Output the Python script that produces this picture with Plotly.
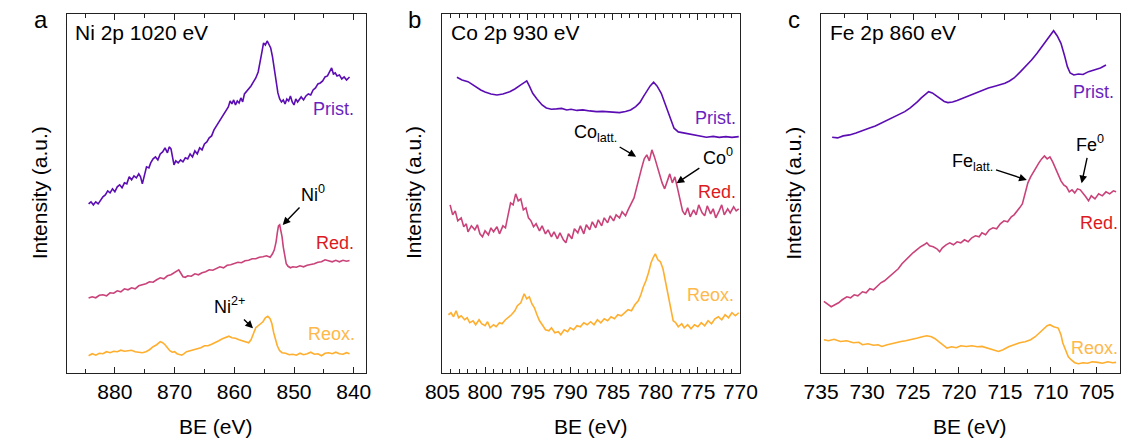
import plotly.graph_objects as go

# ---------------- data (BE in eV, intensity in a.u.) ----------------
ni_be_prist = [884.4, 884.0, 883.6, 883.2, 882.8, 882.4, 882.0, 881.6, 881.2, 880.8, 880.4, 880.0, 879.6, 879.2, 878.8, 878.4, 878.0, 877.6, 877.2, 876.8, 876.4, 876.0, 875.7, 875.4, 875.0, 874.7, 874.3, 874.0, 873.6, 873.2, 872.8, 872.4, 872.0, 871.6, 871.2, 870.9, 870.6, 870.3, 870.1, 869.8, 869.4, 869.0, 868.6, 868.2, 867.8, 867.4, 867.0, 866.6, 866.2, 865.8, 865.4, 865.0, 864.6, 864.2, 863.8, 863.4, 863.0, 862.6, 862.2, 861.8, 861.4, 861.0, 860.7, 860.4, 860.1, 859.8, 859.5, 859.2, 858.9, 858.6, 858.3, 858.0, 857.6, 857.2, 856.8, 856.4, 856.0, 855.7, 855.4, 855.1, 854.8, 854.5, 854.2, 853.9, 853.6, 853.3, 853.0, 852.7, 852.4, 852.1, 851.8, 851.5, 851.2, 850.9, 850.6, 850.3, 850.0, 849.7, 849.4, 849.1, 848.8, 848.4, 848.0, 847.6, 847.2, 846.8, 846.4, 846.0, 845.6, 845.2, 844.8, 844.4, 844.0, 843.7, 843.4, 843.1, 842.8, 842.4, 842.0, 841.6, 841.2, 840.7]
ni_prist = [169, 171, 168, 171, 169, 173, 176, 178, 182, 180, 184, 181, 186, 188, 185, 190, 189, 196, 193, 197, 195, 199, 196, 189, 199, 206, 205, 210, 214, 216, 213, 219, 221, 225, 220, 226, 224, 214, 208, 212, 210, 213, 211, 215, 214, 219, 216, 222, 219, 225, 223, 229, 231, 235, 237, 243, 247, 251, 255, 258, 262, 266, 272, 269, 273, 268, 272, 270, 275, 271, 279, 281, 284, 287, 291, 295, 301, 309, 320, 330, 328, 332, 328, 325, 316, 303, 290, 280, 274, 271, 273, 269, 274, 272, 277, 271, 268, 274, 271, 273, 276, 273, 277, 279, 278, 283, 285, 289, 290, 292, 296, 297, 301, 305, 299, 300, 297, 298, 294, 296, 293, 296]

ni_be_red = [884.4, 883.8, 883.2, 882.6, 882.0, 881.4, 880.8, 880.2, 879.6, 879.0, 878.4, 877.8, 877.2, 876.6, 876.0, 875.4, 874.8, 874.2, 873.6, 873.0, 872.4, 871.8, 871.2, 870.6, 870.0, 869.6, 869.3, 869.0, 868.6, 868.2, 867.8, 867.2, 866.6, 866.0, 865.4, 864.8, 864.2, 863.6, 863.0, 862.4, 861.8, 861.2, 860.6, 860.0, 859.4, 858.8, 858.2, 857.6, 857.0, 856.4, 855.8, 855.2, 854.6, 854.0, 853.6, 853.3, 853.0, 852.8, 852.6, 852.4, 852.2, 852.0, 851.8, 851.6, 851.3, 851.0, 850.6, 850.2, 849.6, 849.0, 848.4, 847.8, 847.2, 846.6, 846.0, 845.4, 844.8, 844.2, 843.6, 843.0, 842.4, 841.8, 841.2, 840.7]
ni_red = [74.7, 76, 75, 77.5, 78, 77, 80, 79.5, 82, 81, 84, 83, 85, 84, 87, 88, 89, 91, 90.5, 93, 95, 94, 97, 98, 100, 102, 103, 100, 96, 95.5, 97, 96.5, 99, 98, 100, 101, 103, 102.5, 104, 106, 105, 107.5, 108, 109, 110.5, 110, 112, 112.5, 114, 114, 115.5, 116, 117, 115.5, 119, 123, 131, 140, 147, 148, 143, 136, 126, 117, 109, 106.5, 105, 106, 105.5, 107, 106, 107.5, 108, 109, 110.5, 111, 113, 112, 111, 112.5, 111, 112.5, 111.5, 112.3]

ni_be_reox = [884.4, 883.8, 883.2, 882.6, 882.0, 881.4, 880.8, 880.2, 879.6, 879.0, 878.4, 877.8, 877.2, 876.6, 876.0, 875.4, 874.8, 874.2, 873.6, 873.0, 872.4, 872.0, 871.6, 871.2, 870.8, 870.4, 870.0, 869.6, 869.2, 868.8, 868.4, 868.0, 867.4, 866.8, 866.2, 865.6, 865.0, 864.4, 863.8, 863.2, 862.6, 862.0, 861.4, 860.9, 860.4, 859.8, 859.2, 858.6, 858.0, 857.6, 857.2, 856.8, 856.4, 856.0, 855.6, 855.2, 854.8, 854.4, 854.0, 853.7, 853.4, 853.1, 852.8, 852.4, 852.0, 851.4, 850.8, 850.2, 849.6, 849.0, 848.4, 847.8, 847.2, 846.6, 846.0, 845.4, 844.8, 844.2, 843.6, 843.0, 842.4, 841.8, 841.2, 840.7]
ni_reox = [17, 19, 17.5, 19.5, 19, 21, 20, 21.5, 21, 22.5, 21.5, 22, 22.5, 21, 20.5, 20, 21, 23, 26, 28, 31, 30, 28, 25, 22, 20.5, 21, 19, 18, 17.5, 19, 21, 22, 23, 24, 25, 27, 27, 28.5, 30, 32, 34, 35, 36.5, 35, 34.5, 33, 32, 31, 30, 33, 40, 45, 47, 49, 51, 55, 56.5, 54, 49, 40, 33, 27, 22, 20, 19.5, 18, 18.5, 17.5, 19.5, 18, 19, 20.5, 18.5, 19, 17, 19.5, 20, 19, 20.5, 19, 18.5, 20, 19]

co_be_prist = [803.3, 802.7, 802.0, 801.4, 800.9, 800.5, 800.0, 799.3, 798.6, 797.9, 797.1, 796.5, 795.8, 795.4, 795.1, 794.8, 794.4, 793.9, 793.3, 792.8, 792.2, 791.6, 791.0, 790.4, 789.9, 789.2, 788.5, 787.7, 786.9, 786.2, 785.5, 784.8, 784.2, 783.5, 782.9, 782.3, 781.8, 781.4, 781.0, 780.6, 780.2, 779.8, 779.3, 778.9, 778.5, 778.1, 777.8, 777.3, 776.7, 776.2, 775.5, 774.8, 774.0, 773.2, 772.5, 771.7, 771.0, 770.2]
co_prist = [295.7, 293, 291.3, 288, 285, 283, 281, 279, 278, 279, 281.3, 284, 288, 290, 292, 287, 279.7, 274, 268, 265, 263.7, 264, 264.5, 263, 263.7, 262.5, 263, 262, 261.3, 261.5, 261, 260.5, 260.3, 261.5, 263, 266.3, 270.5, 276.3, 282, 287, 290.7, 287, 279.7, 270, 259.7, 250, 244.7, 241, 240, 239, 237.5, 236.5, 235.7, 236.5, 235.5, 236.3, 235.5, 236.3]

co_be_red = [804.1, 803.8, 803.5, 803.2, 802.8, 802.5, 802.2, 802.0, 801.6, 801.2, 800.9, 800.6, 800.3, 800.0, 799.6, 799.3, 799.0, 798.6, 798.3, 797.9, 797.6, 797.3, 797.0, 796.7, 796.4, 796.1, 795.8, 795.5, 795.2, 794.9, 794.6, 794.3, 794.0, 793.6, 793.3, 792.9, 792.6, 792.2, 791.9, 791.5, 791.2, 790.8, 790.5, 790.2, 789.8, 789.5, 789.1, 788.8, 788.4, 788.1, 787.7, 787.4, 787.0, 786.7, 786.3, 786.0, 785.6, 785.3, 784.9, 784.6, 784.2, 783.9, 783.5, 783.2, 782.9, 782.5, 782.2, 781.9, 781.6, 781.3, 781.0, 780.7, 780.4, 780.1, 779.8, 779.5, 779.2, 778.9, 778.6, 778.3, 778.0, 777.7, 777.4, 777.1, 776.8, 776.5, 776.2, 775.9, 775.5, 775.2, 774.9, 774.5, 774.2, 773.9, 773.5, 773.2, 772.9, 772.5, 772.2, 771.9, 771.5, 771.2, 770.8, 770.5, 770.2]
co_red = [168, 158, 162, 152, 155, 146, 149, 141, 147, 143, 148, 139, 136, 142, 138, 145, 141, 146, 139, 147, 145, 158, 170, 168, 179, 172, 174, 163, 165, 155, 152, 146, 149, 142, 147, 139, 143, 136, 141, 134, 140, 133, 130, 139, 134, 144, 140, 147, 139, 148, 143, 151, 145, 153, 147, 155, 150, 157, 152, 158, 155, 161, 157, 163, 168, 175, 185, 196, 205, 214, 218, 212, 223, 216, 207, 198, 190, 184, 192, 199, 190, 196, 185, 172, 162, 158, 165, 156, 163, 158, 168, 160, 157, 167, 159, 164, 155, 162, 168, 158, 164, 160, 166, 162, 164]

co_be_reox = [804.3, 804.0, 803.7, 803.4, 803.1, 802.8, 802.4, 802.1, 801.8, 801.4, 801.1, 800.7, 800.4, 800.0, 799.7, 799.4, 799.0, 798.7, 798.3, 798.0, 797.6, 797.2, 796.9, 796.5, 796.2, 795.8, 795.4, 795.1, 794.8, 794.5, 794.2, 793.9, 793.6, 793.2, 792.9, 792.5, 792.2, 791.8, 791.4, 791.1, 790.7, 790.3, 790.0, 789.6, 789.2, 788.8, 788.4, 788.0, 787.6, 787.2, 786.8, 786.4, 786.0, 785.6, 785.2, 784.8, 784.4, 784.0, 783.6, 783.2, 782.8, 782.4, 782.0, 781.7, 781.4, 781.1, 780.8, 780.5, 780.2, 780.0, 779.7, 779.4, 779.1, 778.8, 778.5, 778.2, 777.9, 777.6, 777.3, 776.9, 776.6, 776.2, 775.8, 775.4, 775.0, 774.6, 774.2, 773.8, 773.4, 773.0, 772.6, 772.2, 771.8, 771.4, 771.0, 770.6, 770.2]
co_reox = [58, 60, 56, 62, 55, 57, 53, 55, 50, 52, 48, 53, 49, 47, 51, 45, 48, 46, 50, 49, 53, 56, 58, 62, 67, 70, 79, 74, 76, 69, 65, 58, 52, 47, 43, 42, 45, 40, 41, 38, 43, 41, 45, 43, 47, 46, 50, 48, 51, 48, 53, 50, 54, 52, 56, 54, 58, 57, 60, 63, 62, 68, 72, 78, 86, 92, 100, 110, 116, 119, 113, 111, 104, 90, 77, 62, 52, 50, 46, 49, 45, 48, 44, 48, 46, 50, 47, 52, 49, 54, 56, 53, 58, 55, 60, 57, 60]

fe_be_prist = [733.8, 733.2, 732.6, 731.9, 731.2, 730.5, 729.8, 729.1, 728.4, 727.7, 727.0, 726.4, 725.9, 725.3, 724.9, 724.5, 724.1, 723.7, 723.3, 722.9, 722.4, 722.0, 721.6, 721.2, 720.7, 720.2, 719.6, 719.0, 718.3, 717.5, 716.8, 716.0, 715.0, 714.5, 714.0, 713.3, 712.7, 712.1, 711.5, 711.0, 710.5, 710.1, 709.7, 709.3, 708.9, 708.5, 708.2, 707.9, 707.5, 707.0, 706.5, 705.9, 705.2, 704.6, 704.0]
fe_prist = [235.7, 235, 237, 238, 240, 242, 244.7, 247, 250, 253, 256, 258.5, 261.3, 265, 268, 271.3, 275, 278, 281.3, 280, 277, 274, 271.5, 270.3, 271, 272.5, 274.7, 277, 279.5, 283, 285, 287, 289.7, 292, 295, 301.3, 307, 313, 319.7, 326, 333, 338, 342.3, 337, 329.7, 317, 306.3, 300, 298, 299, 298.5, 301.3, 303, 305, 308]

fe_be_red = [734.7, 734.3, 733.9, 733.5, 733.1, 732.7, 732.2, 731.8, 731.4, 731.0, 730.5, 730.1, 729.7, 729.3, 728.9, 728.5, 728.1, 727.7, 727.3, 727.0, 726.6, 726.2, 725.8, 725.4, 725.0, 724.6, 724.2, 723.8, 723.5, 723.2, 722.8, 722.4, 722.1, 721.8, 721.4, 721.0, 720.6, 720.2, 719.8, 719.4, 719.0, 718.6, 718.2, 717.8, 717.5, 717.1, 716.7, 716.3, 715.9, 715.5, 715.1, 714.7, 714.3, 714.0, 713.7, 713.4, 713.1, 712.8, 712.5, 712.2, 711.9, 711.6, 711.3, 711.0, 710.7, 710.4, 710.1, 709.8, 709.5, 709.2, 708.9, 708.6, 708.3, 708.0, 707.7, 707.4, 707.1, 706.8, 706.5, 706.2, 705.9, 705.6, 705.2, 704.8, 704.4, 704.0, 703.6, 703.2, 702.9]
fe_red = [71.3, 69, 66, 68, 70, 73, 76, 75, 78, 77, 81, 80, 84, 83, 87, 90, 92, 95, 98, 101, 104, 109, 113, 117, 120, 123, 126, 128, 130, 127, 126, 124, 121, 125, 128, 130, 128, 131, 130, 133, 131, 135, 137, 136, 140, 138, 143, 145, 144, 149, 152, 151, 156, 158, 161, 165, 169, 180, 190, 196, 201, 205, 210, 214, 217, 214, 216, 211, 205, 199, 192, 188, 186, 181, 183, 180, 184, 183, 180, 176, 172, 177, 174, 179, 177, 181, 179, 182, 181]

fe_be_reox = [734.7, 734.2, 733.6, 732.9, 732.2, 731.5, 730.9, 730.5, 729.9, 729.3, 728.8, 728.4, 727.8, 727.2, 726.7, 726.3, 725.8, 725.2, 724.8, 724.5, 724.0, 723.5, 723.0, 722.6, 722.2, 721.8, 721.3, 720.8, 720.3, 719.8, 719.2, 718.6, 718.0, 717.5, 717.0, 716.4, 715.7, 715.2, 714.6, 714.0, 713.4, 712.8, 712.2, 711.7, 711.2, 710.8, 710.4, 710.1, 709.7, 709.2, 708.9, 708.7, 708.4, 708.1, 707.8, 707.4, 707.0, 706.5, 706.0, 705.5, 704.9, 704.4, 703.8, 703.3, 702.9]
fe_reox = [33, 32, 33.5, 31.3, 32, 30, 30.5, 28, 29, 27.5, 28, 26.3, 28, 29.5, 30, 31.3, 32, 33, 34, 34.7, 36, 37, 36, 34, 31, 28, 24.7, 26, 25, 27, 26.3, 27, 26, 26.3, 25, 23, 21.3, 23, 26, 28, 30, 31, 33, 36, 40, 43, 47, 48, 46, 44.7, 38, 29.7, 22, 16, 13, 10, 9, 10, 9.5, 11, 10.3, 9.5, 11, 10, 10.3]

panel_titles = ["Ni 2p 1020 eV", "Co 2p 930 eV", "Fe 2p 860 eV"]
panel_letters = ["a", "b", "c"]
series_names = ["Prist.", "Red.", "Reox."]

# ---------------- styling ----------------
W, H = 1140, 439
FONT = "Arial, Liberation Sans, sans-serif"
C_PRIST = "#5b0db3"
C_RED = "#c9427a"
C_REOX = "#ffae2e"
LBL_PRIST = "#6a1fc0"
LBL_RED = "#dd1a22"
LBL_REOX = "#ffb84a"

def px(x):
    return x / W

def py(y):
    return 1 - y / H

domains_x = [(50.7, 359.0), (438.3, 746.0), (829.3, 1137.7)]
dom_y = [py(372.7), py(14.0)]

fig = go.Figure()

panels = [
    (ni_be_prist, ni_prist, ni_be_red, ni_red, ni_be_reox, ni_reox),
    (co_be_prist, co_prist, co_be_red, co_red, co_be_reox, co_reox),
    (fe_be_prist, fe_prist, fe_be_red, fe_red, fe_be_reox, fe_reox),
]
colors = [C_PRIST, C_RED, C_REOX]
for i, p in enumerate(panels):
    xa = "x" if i == 0 else f"x{i+1}"
    ya = "y" if i == 0 else f"y{i+1}"
    for k in range(3):
        fig.add_trace(go.Scatter(x=p[2 * k], y=p[2 * k + 1], mode="lines",
                                 line=dict(color=colors[k], width=1.6),
                                 name=series_names[k], showlegend=False,
                                 xaxis=xa, yaxis=ya))

x_ranges = [[888, 838], [805, 770], [735, 702.5]]
x_dticks = [10, 5, 5]
x_minor = [5, 1, 2.5]
x_tick0 = [880, 805, 735]

layout = dict(width=W, height=H, margin=dict(l=0, r=0, t=0, b=0),
              paper_bgcolor="white", plot_bgcolor="white",
              font=dict(family=FONT, color="black"))
for i in range(3):
    sx = "xaxis" if i == 0 else f"xaxis{i+1}"
    sy = "yaxis" if i == 0 else f"yaxis{i+1}"
    ya = "y" if i == 0 else f"y{i+1}"
    xa = "x" if i == 0 else f"x{i+1}"
    layout[sx] = dict(domain=[px(domains_x[i][0]), px(domains_x[i][1])],
                      range=x_ranges[i], anchor=ya,
                      showline=True, mirror="ticks", linecolor="#222", linewidth=1.3,
                      ticks="inside", ticklen=6, tickwidth=1.2, tickcolor="#222",
                      tick0=x_tick0[i], dtick=x_dticks[i],
                      minor=dict(dtick=x_minor[i], ticks="inside", ticklen=3.5,
                                 tickwidth=1.1, tickcolor="#222", showgrid=False),
                      showgrid=False, zeroline=False,
                      tickfont=dict(size=21, family=FONT, color="black"))
    layout[sy] = dict(domain=dom_y, range=[0, 359], anchor=xa,
                      showline=True, mirror=True, linecolor="#222", linewidth=1.3,
                      ticks="", showticklabels=False, showgrid=False, zeroline=False)
fig.update_layout(**layout)

ann = []
def text(x, y, s, size=18, color="black", xanchor="center", angle=0):
    ann.append(dict(x=px(x), y=py(y), xref="paper", yref="paper", text=s,
                    showarrow=False, xanchor=xanchor, yanchor="middle",
                    textangle=angle, font=dict(size=size, color=color, family=FONT)))

def arrow_label(lx, ly, s, x1, y1):
    # label centred at (lx, ly); arrow head at (x1, y1)
    ann.append(dict(x=px(x1), y=py(y1), xref="paper", yref="paper", text=s,
                    showarrow=True, ax=lx - x1, ay=ly - y1, axref="pixel", ayref="pixel",
                    arrowhead=2, arrowsize=1.1, arrowwidth=1.4, arrowcolor="black",
                    standoff=0, startstandoff=2,
                    font=dict(size=18, color="black", family=FONT)))

# panel letters, titles, axis titles
letter_x = [24, 409, 801]
ytitle_x = [22, 408, 800]
title_x = [57, 445, 836]
for i in range(3):
    text(letter_x[i], 20, panel_letters[i], size=24)
    text(title_x[i], 32, panel_titles[i], size=21, xanchor="left")
    text(ytitle_x[i], 193, "Intensity (a.u.)", size=21, angle=-90)
    text((domains_x[i][0] + domains_x[i][1]) / 2, 426, "BE (eV)", size=21)

# series labels
text(349, 109, "Prist.", 18, LBL_PRIST, "right")
text(349, 243, "Red.", 18, LBL_RED, "right")
text(350, 334, "Reox.", 18, LBL_REOX, "right")
text(743, 118, "Prist.", 18, LBL_PRIST, "right")
text(743, 192, "Red.", 18, LBL_RED, "right")
text(741, 295, "Reox.", 18, LBL_REOX, "right")
text(1134, 92, "Prist.", 18, LBL_PRIST, "right")
text(1138, 223, "Red.", 18, LBL_RED, "right")
text(1138, 348, "Reox.", 18, LBL_REOX, "right")

# peak labels with arrows
arrow_label(304, 193, "Ni<sup>0</sup>", 273.3, 225)
arrow_label(219, 305, "Ni<sup>2+</sup>", 242.7, 328.3)
arrow_label(598, 133, "Co<sub>latt.</sub>", 638.3, 156.7)
arrow_label(721, 156, "Co<sup>0</sup>", 680, 183.3)
arrow_label(987, 162, "Fe<sub>latt.</sub>", 1041.7, 180)
arrow_label(1107, 143, "Fe<sup>0</sup>", 1098.3, 183.3)

fig.update_layout(annotations=ann)
fig.write_html("out.html", config={"displayModeBar": False},
               post_script="document.body.style.margin='0';document.body.style.overflow='hidden';")
